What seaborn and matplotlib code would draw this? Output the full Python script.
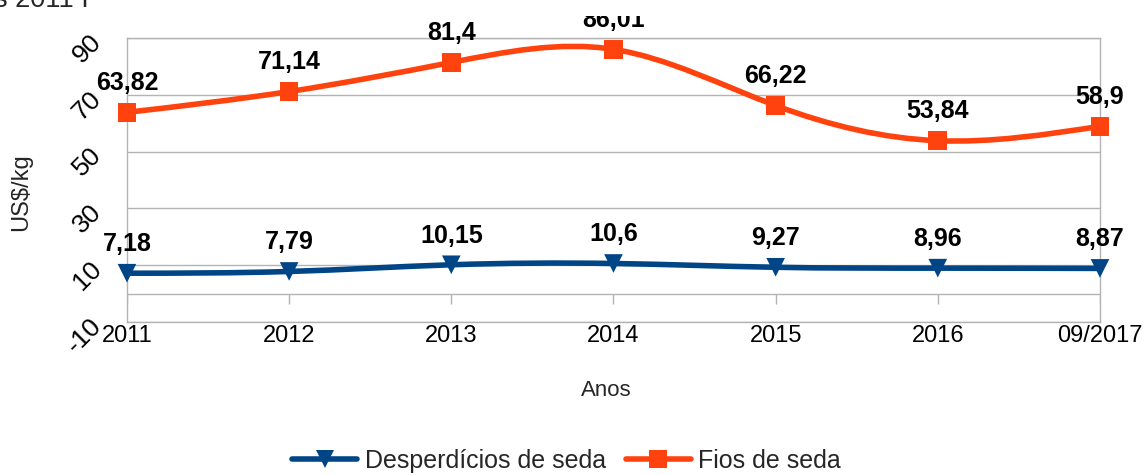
import matplotlib
matplotlib.use("Agg")
import matplotlib.pyplot as plt
import numpy as np
import pandas as pd
import seaborn as sns
from matplotlib.lines import Line2D
from matplotlib.patches import PathPatch
from matplotlib.path import Path
from matplotlib.transforms import Bbox, TransformedBbox

anos = ["2011", "2012", "2013", "2014", "2015", "2016", "09/2017"]
desperdicios = [7.18, 7.79, 10.15, 10.6, 9.27, 8.96, 8.87]
fios = [63.82, 71.14, 81.4, 86.01, 66.22, 53.84, 58.9]
y_ticks = [-10, 10, 30, 50, 70, 90]

BLUE = "#004586"
ORANGE = "#ff420e"
GRID = "#b3b3b3"


def smooth_path(xs, ys):
    # natural cubic spline through the points, written as bezier segments
    n = len(xs)
    a = np.zeros((n, n))
    b = np.zeros(n)
    a[0, 0] = a[-1, -1] = 1
    for i in range(1, n - 1):
        a[i, i - 1], a[i, i], a[i, i + 1] = 1, 4, 1
        b[i] = 6 * (ys[i + 1] - 2 * ys[i] + ys[i - 1])
    m = np.linalg.solve(a, b)
    verts = [(xs[0], ys[0])]
    codes = [Path.MOVETO]
    for i in range(n - 1):
        d = ys[i + 1] - ys[i]
        s0 = d - (2 * m[i] + m[i + 1]) / 6
        s1 = d + (m[i] + 2 * m[i + 1]) / 6
        verts += [(xs[i] + 1 / 3, ys[i] + s0 / 3),
                  (xs[i + 1] - 1 / 3, ys[i + 1] - s1 / 3),
                  (xs[i + 1], ys[i + 1])]
        codes += [Path.CURVE4] * 3
    return Path(verts, codes)


sns.set_theme(style="white")
plt.rcParams["font.family"] = ["Liberation Sans", "DejaVu Sans"]
plt.rcParams["axes.unicode_minus"] = False

pos = list(range(len(anos)))
df = pd.DataFrame({
    "pos": pos * 2,
    "valor": desperdicios + fios,
    "serie": ["Desperdícios de seda"] * len(anos) + ["Fios de seda"] * len(anos),
})

fig = plt.figure(figsize=(11.47, 4.75), dpi=100)
ax = fig.add_axes([0.1107, 0.3221, 0.8483, 0.5979])

for vals, color in [(desperdicios, BLUE), (fios, ORANGE)]:
    ax.add_patch(PathPatch(smooth_path(pos, vals), fill=False, edgecolor=color,
                           lw=4, capstyle="round", zorder=3))

sns.scatterplot(data=df, x="pos", y="valor", hue="serie", style="serie",
                palette={"Desperdícios de seda": BLUE, "Fios de seda": ORANGE},
                markers={"Desperdícios de seda": "v", "Fios de seda": "s"},
                s=180, linewidth=0, legend=False, zorder=4, ax=ax, clip_on=False)

# the top strip of the reference hides anything drawn above ~16 px
label_clip = TransformedBbox(Bbox([[0, 0], [1, 1 - 16 / 475]]), fig.transFigure)
for vals in (desperdicios, fios):
    for x, v in zip(pos, vals):
        ann = ax.annotate(str(v).replace(".", ","), (x, v), xytext=(0, 16),
                          textcoords="offset points", ha="center", va="baseline",
                          fontsize=18, fontweight="bold", color="black",
                          annotation_clip=False)
        ann.set_clip_on(True)
        ann.set_clip_box(label_clip)

ax.set_xlim(0, len(anos) - 1)
ax.set_ylim(-10, 90)
ax.set_yticks(y_ticks)
ax.set_yticklabels([str(t) for t in y_ticks], rotation=45, ha="right",
                   va="center", rotation_mode="anchor")
ax.tick_params(axis="y", length=0, pad=21, labelsize=19, colors="black")
ax.set_xticks(pos)
ax.set_xticklabels(anos)
ax.tick_params(axis="x", length=0, pad=2, labelsize=17, colors="black")

for t in y_ticks:
    ax.axhline(t, color=GRID, lw=1, zorder=1)
ax.axhline(0, color=GRID, lw=1, zorder=1)
ax.vlines(pos, -3.5, 0, color=GRID, lw=1, zorder=1)
for sp in ax.spines.values():
    sp.set_color(GRID)
    sp.set_linewidth(1)

ax.set_xlabel("Anos", fontsize=16)
ax.xaxis.set_label_coords(0.493, -0.204)
ax.set_ylabel("US$/kg", fontsize=17)
ax.yaxis.set_label_coords(-0.097, 0.458)

handles = [
    Line2D([], [], color=BLUE, lw=4, marker="v", markersize=13, markeredgewidth=0),
    Line2D([], [], color=ORANGE, lw=4, marker="s", markersize=13, markeredgewidth=0),
]
fig.legend(handles, ["Desperdícios de seda", "Fios de seda"], loc="center",
           bbox_to_anchor=(0.494, 0.03), ncol=2, frameon=False, fontsize=18,
           handlelength=2.6, handletextpad=0.3, columnspacing=0.8)

fig.text(-6 / 1147, 1 - 7 / 475, "s 2011 I", fontsize=19.5, va="baseline", ha="left")

fig.savefig("out.png", dpi=100)
